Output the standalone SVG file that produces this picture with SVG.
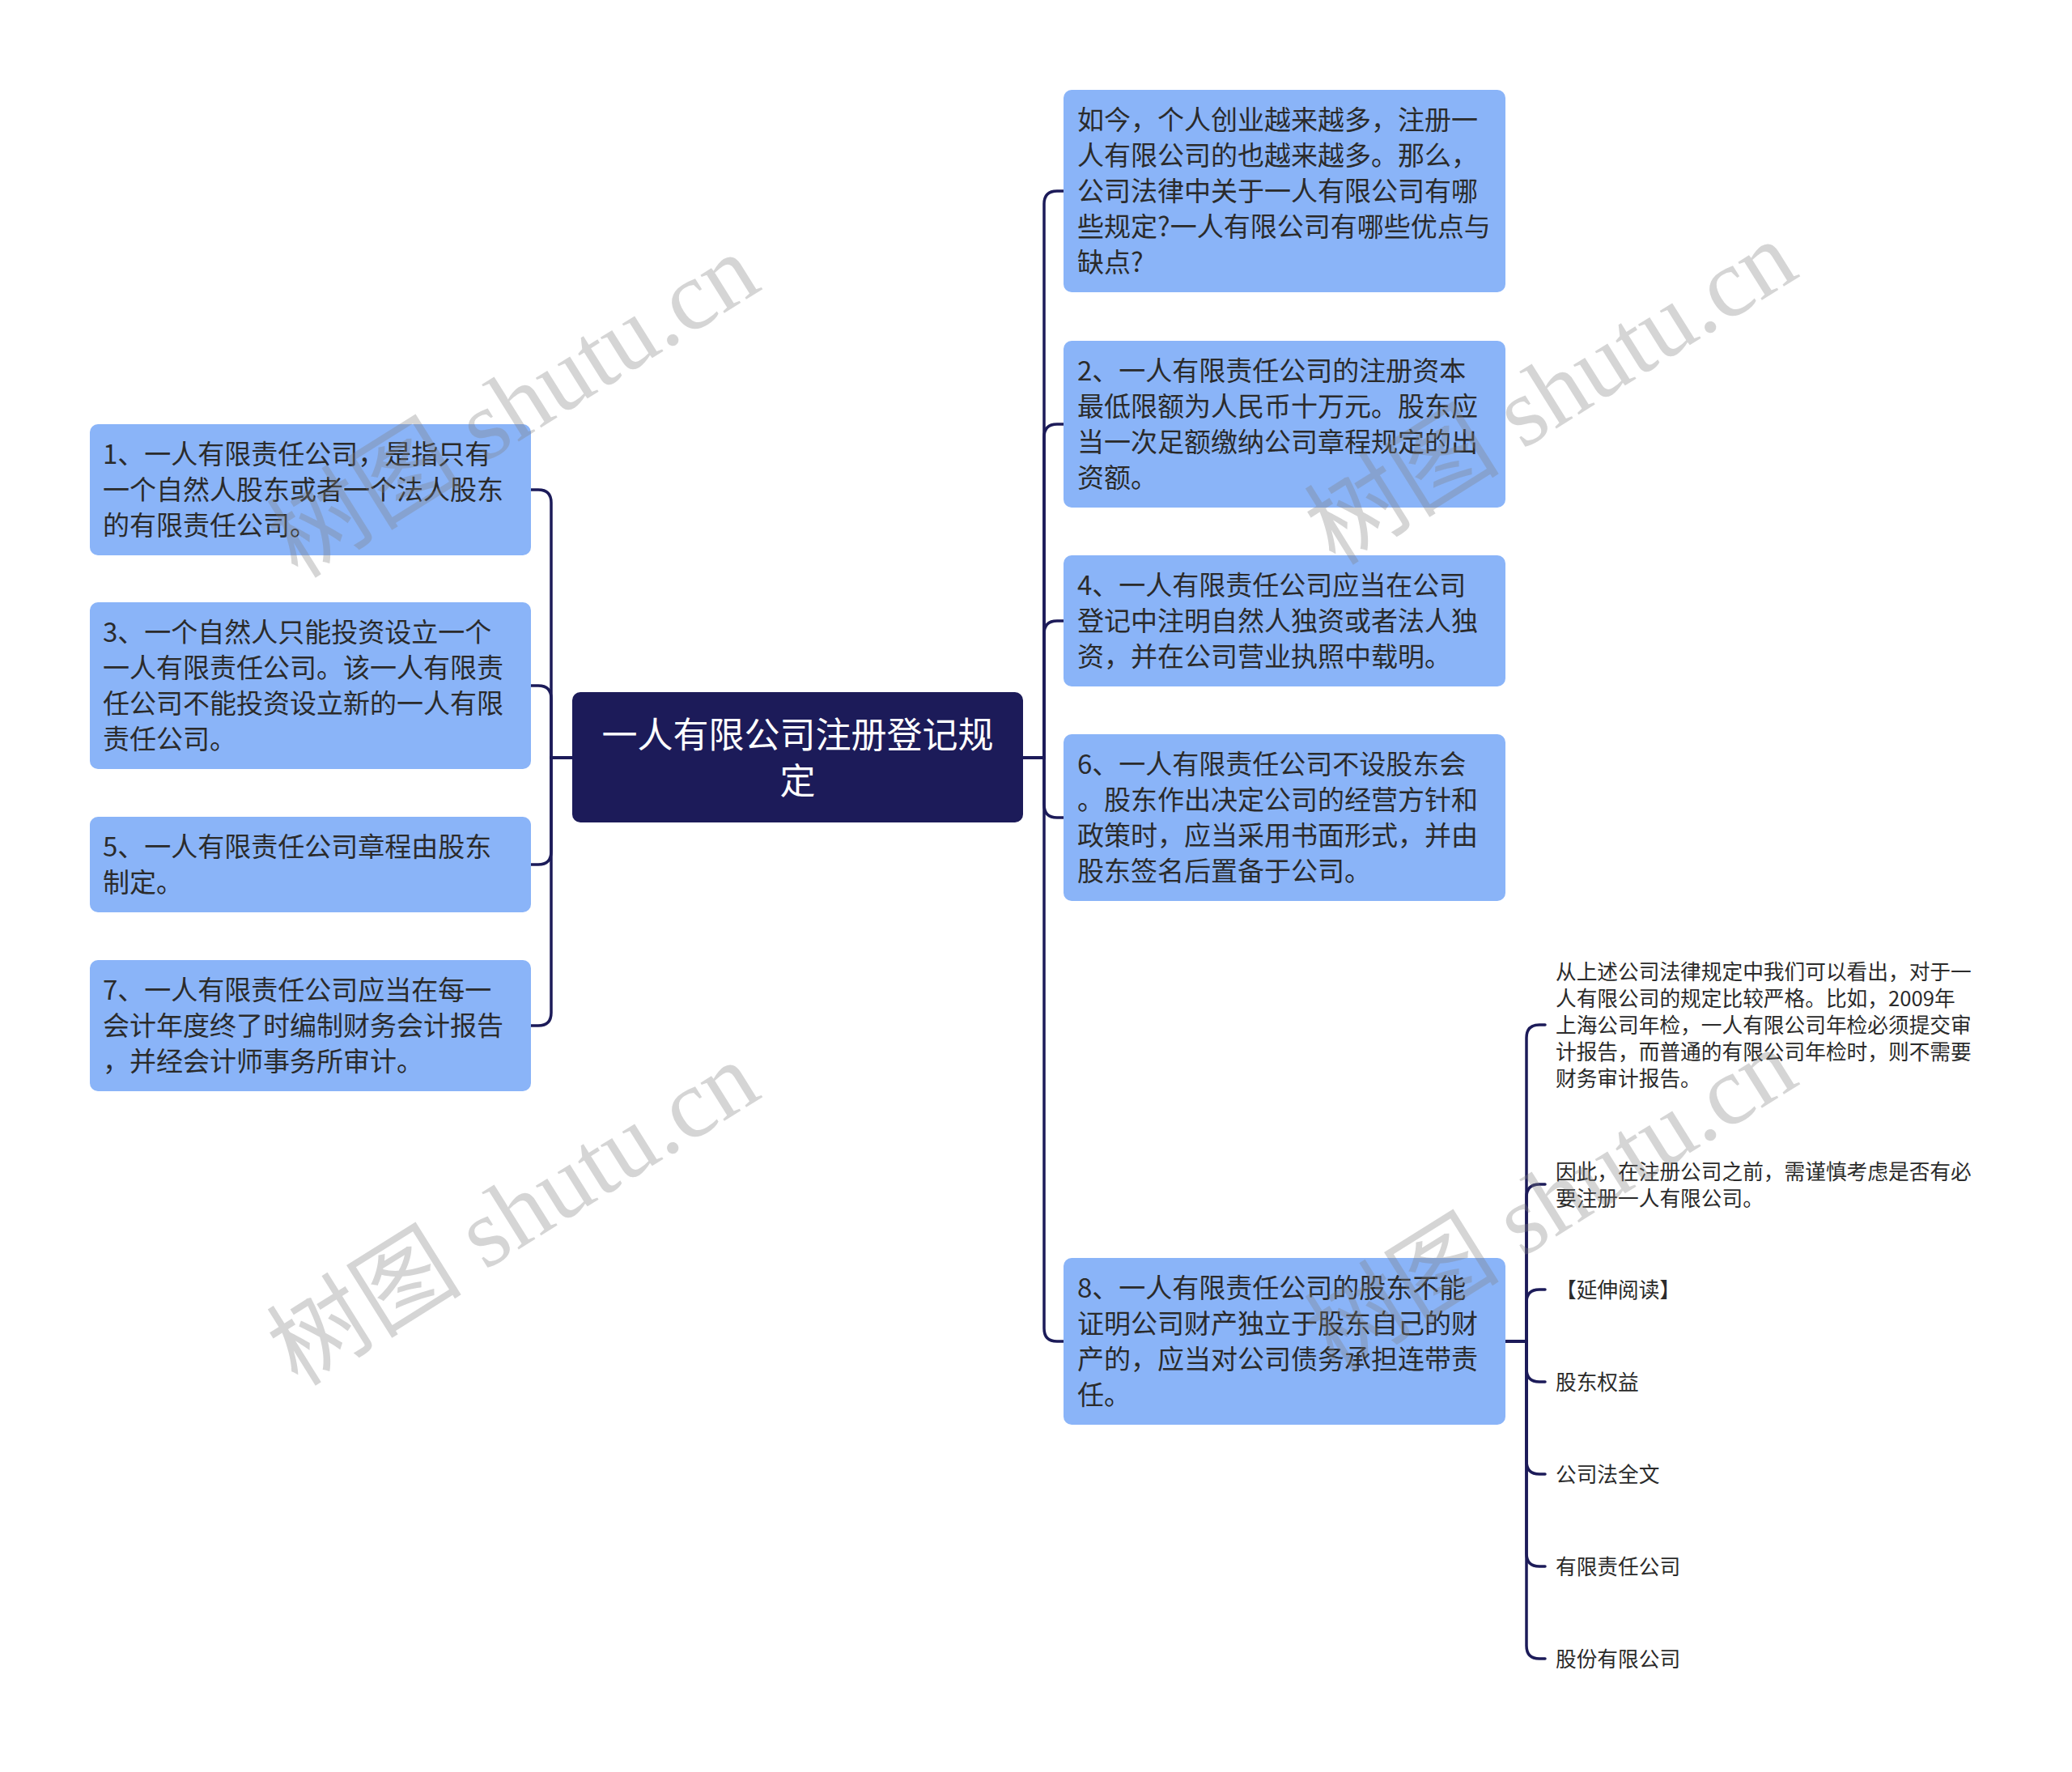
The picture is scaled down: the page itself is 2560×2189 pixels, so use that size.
<svg xmlns="http://www.w3.org/2000/svg" width="2560" height="2189" viewBox="0 0 2560 2189">
<style>
.bg{fill:#ffffff}
.node{fill:#8ab4f8}
.root{fill:#1c1b59}
.t{font-family:"Noto Sans CJK SC","Noto Sans",sans-serif;font-size:33px;fill:#2b2b2b}
.rt{font-family:"Noto Sans CJK SC","Noto Sans",sans-serif;font-size:44px;fill:#ffffff;text-anchor:middle}
.s{font-family:"Noto Sans CJK SC","Noto Sans",sans-serif;font-size:25.7px;fill:#2b2b2b}
.c{fill:none;stroke:#1c1b59;stroke-width:3.5;stroke-linecap:round}
.wm{font-family:"Liberation Serif","Noto Sans CJK SC",serif;font-size:121px;fill:#808080;fill-opacity:0.33}
</style>
<rect class="bg" x="0" y="0" width="2560" height="2189"/>
<g id="connectors">
<path class="c" d="M707,936 H681 V621 Q681,605 665,605 H656"/>
<path class="c" d="M707,936 H681 V863 Q681,847 665,847 H656"/>
<path class="c" d="M707,936 H681 V1052 Q681,1068 665,1068 H656"/>
<path class="c" d="M707,936 H681 V1251 Q681,1267 665,1267 H656"/>
<path class="c" d="M1264,936 H1290 V252 Q1290,236 1306,236 H1314"/>
<path class="c" d="M1264,936 H1290 V540 Q1290,524 1306,524 H1314"/>
<path class="c" d="M1264,936 H1290 V783 Q1290,767 1306,767 H1314"/>
<path class="c" d="M1264,936 H1290 V994 Q1290,1010 1306,1010 H1314"/>
<path class="c" d="M1264,936 H1290 V1641 Q1290,1657 1306,1657 H1314"/>
<path class="c" d="M1860,1657 H1886 V1282 Q1886,1266 1902,1266 H1909"/>
<path class="c" d="M1860,1657 H1886 V1479 Q1886,1463 1902,1463 H1909"/>
<path class="c" d="M1860,1657 H1886 V1609 Q1886,1593 1902,1593 H1909"/>
<path class="c" d="M1860,1657 H1886 V1691 Q1886,1707 1902,1707 H1909"/>
<path class="c" d="M1860,1657 H1886 V1805 Q1886,1821 1902,1821 H1909"/>
<path class="c" d="M1860,1657 H1886 V1919 Q1886,1935 1902,1935 H1909"/>
<path class="c" d="M1860,1657 H1886 V2033 Q1886,2049 1902,2049 H1909"/>
</g>
<g id="root">
<rect class="root" x="707" y="855" width="557" height="161" rx="10"/>
<text class="rt" x="985.5" y="924">一人有限公司注册登记规</text>
<text class="rt" x="985.5" y="981">定</text>
</g>
<g id="n1">
<rect class="node" x="111" y="524" width="545" height="162" rx="10"/>
<text class="t" x="127" y="573">1、一人有限责任公司，是指只有</text>
<text class="t" x="127" y="617">一个自然人股东或者一个法人股东</text>
<text class="t" x="127" y="661">的有限责任公司。</text>
</g>
<g id="n3">
<rect class="node" x="111" y="744" width="545" height="206" rx="10"/>
<text class="t" x="127" y="793">3、一个自然人只能投资设立一个</text>
<text class="t" x="127" y="837">一人有限责任公司。该一人有限责</text>
<text class="t" x="127" y="881">任公司不能投资设立新的一人有限</text>
<text class="t" x="127" y="925">责任公司。</text>
</g>
<g id="n5">
<rect class="node" x="111" y="1009" width="545" height="118" rx="10"/>
<text class="t" x="127" y="1058">5、一人有限责任公司章程由股东</text>
<text class="t" x="127" y="1102">制定。</text>
</g>
<g id="n7">
<rect class="node" x="111" y="1186" width="545" height="162" rx="10"/>
<text class="t" x="127" y="1235">7、一人有限责任公司应当在每一</text>
<text class="t" x="127" y="1279">会计年度终了时编制财务会计报告</text>
<text class="t" x="127" y="1323">，并经会计师事务所审计。</text>
</g>
<g id="n0">
<rect class="node" x="1314" y="111" width="546" height="250" rx="10"/>
<text class="t" x="1331" y="160">如今，个人创业越来越多，注册一</text>
<text class="t" x="1331" y="204">人有限公司的也越来越多。那么，</text>
<text class="t" x="1331" y="248">公司法律中关于一人有限公司有哪</text>
<text class="t" x="1331" y="292">些规定?一人有限公司有哪些优点与</text>
<text class="t" x="1331" y="336">缺点?</text>
</g>
<g id="n2">
<rect class="node" x="1314" y="421" width="546" height="206" rx="10"/>
<text class="t" x="1331" y="470">2、一人有限责任公司的注册资本</text>
<text class="t" x="1331" y="514">最低限额为人民币十万元。股东应</text>
<text class="t" x="1331" y="558">当一次足额缴纳公司章程规定的出</text>
<text class="t" x="1331" y="602">资额。</text>
</g>
<g id="n4">
<rect class="node" x="1314" y="686" width="546" height="162" rx="10"/>
<text class="t" x="1331" y="735">4、一人有限责任公司应当在公司</text>
<text class="t" x="1331" y="779">登记中注明自然人独资或者法人独</text>
<text class="t" x="1331" y="823">资，并在公司营业执照中载明。</text>
</g>
<g id="n6">
<rect class="node" x="1314" y="907" width="546" height="206" rx="10"/>
<text class="t" x="1331" y="956">6、一人有限责任公司不设股东会</text>
<text class="t" x="1331" y="1000">。股东作出决定公司的经营方针和</text>
<text class="t" x="1331" y="1044">政策时，应当采用书面形式，并由</text>
<text class="t" x="1331" y="1088">股东签名后置备于公司。</text>
</g>
<g id="n8">
<rect class="node" x="1314" y="1554" width="546" height="206" rx="10"/>
<text class="t" x="1331" y="1603">8、一人有限责任公司的股东不能</text>
<text class="t" x="1331" y="1647">证明公司财产独立于股东自己的财</text>
<text class="t" x="1331" y="1691">产的，应当对公司债务承担连带责</text>
<text class="t" x="1331" y="1735">任。</text>
</g>
<g id="s1">
<text class="s" x="1922" y="1210">从上述公司法律规定中我们可以看出，对于一</text>
<text class="s" x="1922" y="1243">人有限公司的规定比较严格。比如，2009年</text>
<text class="s" x="1922" y="1276">上海公司年检，一人有限公司年检必须提交审</text>
<text class="s" x="1922" y="1309">计报告，而普通的有限公司年检时，则不需要</text>
<text class="s" x="1922" y="1342">财务审计报告。</text>
</g>
<g id="s2">
<text class="s" x="1922" y="1457">因此，在注册公司之前，需谨慎考虑是否有必</text>
<text class="s" x="1922" y="1490">要注册一人有限公司。</text>
</g>
<g id="s3"><text class="s" x="1922" y="1603">【延伸阅读】</text></g>
<g id="s4"><text class="s" x="1922" y="1717">股东权益</text></g>
<g id="s5"><text class="s" x="1922" y="1831">公司法全文</text></g>
<g id="s6"><text class="s" x="1922" y="1945">有限责任公司</text></g>
<g id="s7"><text class="s" x="1922" y="2059">股份有限公司</text></g>
<g id="watermarks">
<text class="wm" transform="translate(368,716) rotate(-32)">树图 shutu.cn</text>
<text class="wm" transform="translate(1650,700) rotate(-32)">树图 shutu.cn</text>
<text class="wm" transform="translate(368,1714) rotate(-32)">树图 shutu.cn</text>
<text class="wm" transform="translate(1650,1698) rotate(-32)">树图 shutu.cn</text>
</g>
</svg>
